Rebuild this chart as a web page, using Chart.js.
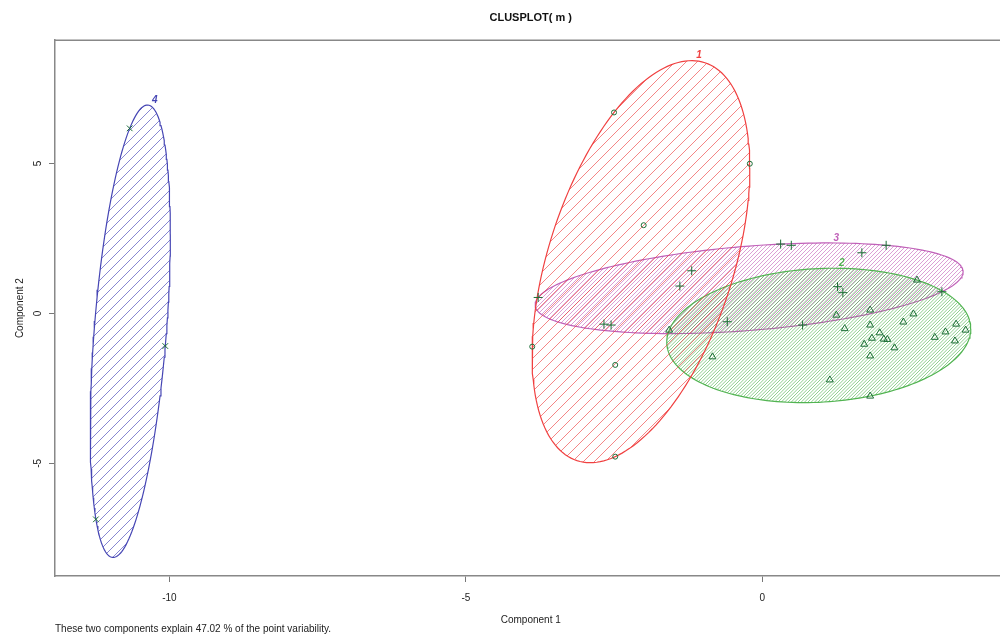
<!DOCTYPE html>
<html>
<head>
<meta charset="utf-8">
<script src="https://cdn.jsdelivr.net/npm/chart.js@4/dist/chart.umd.min.js"></script>
<style>
  html, body { margin: 0; padding: 0; background: #fff; overflow: hidden; }
  #wrap { width: 1012px; height: 634px; }
</style>
</head>
<body>
<div id="wrap"><canvas id="clusplot" width="1012" height="634"></canvas></div>
<script>
const clus1X = [-2.50, -0.21, -2.00, -3.88, -2.48, -2.48];
const clus1Y = [6.70, 4.99, 2.94, -1.11, -1.72, -4.78];

const clus2X = [-1.57, 2.61, 1.25, 1.82, 2.55, 2.38, 1.39, 1.82, 1.98, 1.85, 1.72, 2.05,
                2.11, 2.23, 1.82, 2.91, 3.09, 3.27, 3.43, 3.25, -0.84, 1.14, 1.82];
const clus2Y = [-0.56, 1.11, -0.06, 0.11, -0.02, -0.29, -0.51, -0.39, -0.65, -0.83, -1.03, -0.86,
                -0.87, -1.15, -1.42, -0.80, -0.62, -0.36, -0.56, -0.92, -1.45, -2.22, -2.76];

const clus3X = [-3.78, -1.19, -1.39, -2.67, -2.55, 0.31, 0.49, 1.68, 2.09, 1.27, 1.36, -0.59, 0.68, 3.03];
const clus3Y = [0.53, 1.42, 0.91, -0.36, -0.39, 2.31, 2.27, 2.02, 2.27, 0.89, 0.69, -0.28, -0.39, 0.72];

const clus4X = [-10.67, -10.07, -11.24];
const clus4Y = [6.17, -1.09, -6.87];

const clusterNames = ['1', '2', '3', '4'];
const xTicks = [-10, -5, 0];
const yTicks = [-5, 0, 5];
const xRange = [-11.93, 4.12];
const yRange = [-8.76, 9.11];
const variability = 47.02;

const FONT = "'Liberation Sans', Arial, sans-serif";
const pointColor = '#1c6e36';
const clusterColors = ['#f04040', '#52b452', '#c060b8', '#4646b4'];
const hatchColors = ['rgba(238,60,60,0.62)', 'rgba(70,175,70,0.6)', 'rgba(195,95,185,0.6)', 'rgba(70,70,185,0.65)'];
const hatchSpacing = [[11, 1], [10, 3], [4, 1], [10, 1]]; // tile size, lines per tile
const pointStyles = [['circle', 2.5], ['triangle', 4], ['cross', 4.5], ['crossRot', 4]];

// diagonal hatch pattern, like polygon(density=...) in R
function hatch(color, tile, lines) {
    const c = document.createElement('canvas');
    c.width = tile;
    c.height = tile;
    const g = c.getContext('2d');
    g.strokeStyle = color;
    g.lineWidth = 1;
    const step = tile / lines;
    g.beginPath();
    for (let k = -1; k <= 2 * lines + 1; k++) {
        const s = k * step;
        g.moveTo(s + 1, -1);
        g.lineTo(-1, s + 1);
    }
    g.stroke();
    return g.createPattern(c, 'repeat');
}

function inv3(m) {
    const [a, b, c] = m[0], [d, e, f] = m[1], [g, h, i] = m[2];
    const A = e * i - f * h, B = -(d * i - f * g), C = d * h - e * g;
    const det = a * A + b * B + c * C;
    return [
        [A / det, -(b * i - c * h) / det, (b * f - c * e) / det],
        [B / det, (a * i - c * g) / det, -(a * f - c * d) / det],
        [C / det, -(a * h - b * g) / det, (a * e - b * d) / det]
    ];
}

// minimum volume ellipse around the cluster (Khachiyan), as ellipsoidhull() does
function ellipseHull(xs, ys) {
    const n = xs.length;
    let u = new Array(n).fill(1 / n);
    for (let it = 0; it < 20000; it++) {
        const X = [[0, 0, 0], [0, 0, 0], [0, 0, 0]];
        for (let i = 0; i < n; i++) {
            const q = [xs[i], ys[i], 1];
            for (let a = 0; a < 3; a++)
                for (let b = 0; b < 3; b++) X[a][b] += u[i] * q[a] * q[b];
        }
        const Xi = inv3(X);
        let best = 0, mBest = -Infinity;
        for (let i = 0; i < n; i++) {
            const q = [xs[i], ys[i], 1];
            let m = 0;
            for (let a = 0; a < 3; a++)
                for (let b = 0; b < 3; b++) m += q[a] * Xi[a][b] * q[b];
            if (m > mBest) { mBest = m; best = i; }
        }
        const step = (mBest - 3) / (3 * (mBest - 1));
        if (step < 1e-10) break;
        u = u.map(v => v * (1 - step));
        u[best] += step;
    }
    let cx = 0, cy = 0, sxx = 0, sxy = 0, syy = 0;
    for (let i = 0; i < n; i++) {
        cx += u[i] * xs[i];
        cy += u[i] * ys[i];
        sxx += u[i] * xs[i] * xs[i];
        sxy += u[i] * xs[i] * ys[i];
        syy += u[i] * ys[i] * ys[i];
    }
    const s11 = 2 * (sxx - cx * cx), s12 = 2 * (sxy - cx * cy), s22 = 2 * (syy - cy * cy);
    const l11 = Math.sqrt(s11), l21 = s12 / l11, l22 = Math.sqrt(s22 - l21 * l21);
    const pts = [];
    for (let k = 0; k <= 180; k++) {
        const t = (2 * Math.PI * k) / 180;
        const c = Math.cos(t), s = Math.sin(t);
        pts.push({ x: cx + l11 * c, y: cy + l21 * c + l22 * s });
    }
    return pts;
}

const clusters = [[clus1X, clus1Y], [clus2X, clus2Y], [clus3X, clus3Y], [clus4X, clus4Y]];

const pointSets = clusters.map(([xs, ys], k) => ({
    label: 'cluster ' + clusterNames[k],
    data: xs.map((x, i) => ({ x: x, y: ys[i] })),
    pointStyle: pointStyles[k][0],
    pointRadius: pointStyles[k][1],
    borderColor: pointColor,
    backgroundColor: 'rgba(0,0,0,0)',
    pointBorderWidth: 1,
    showLine: false,
    order: 0
}));

const ellipseSets = clusters.map(([xs, ys], k) => ({
    label: 'ellipse ' + clusterNames[k],
    data: ellipseHull(xs, ys),
    showLine: true,
    pointRadius: 0,
    borderColor: clusterColors[k],
    borderWidth: 1.2,
    tension: 0,
    fill: 'shape',
    backgroundColor: hatch(hatchColors[k], hatchSpacing[k][0], hatchSpacing[k][1]),
    order: 1
}));

const extras = {
    id: 'extras',
    afterDatasetsDraw(chart) {
        const ctx = chart.ctx;
        const area = chart.chartArea;
        const xs = chart.scales.x, ys = chart.scales.y;
        ctx.save();
        // box top edge
        ctx.strokeStyle = '#888';
        ctx.lineWidth = 1.5;
        ctx.beginPath();
        ctx.moveTo(area.left, area.top);
        ctx.lineTo(area.right, area.top);
        ctx.stroke();
        // cluster labels above each ellipse
        ctx.font = 'italic bold 10px ' + FONT;
        ctx.textAlign = 'center';
        ctx.textBaseline = 'middle';
        ellipseSets.forEach((ds, k) => {
            let top = null;
            ds.data.forEach(p => {
                const px = xs.getPixelForValue(p.x), py = ys.getPixelForValue(p.y);
                if (!top || py < top.y) top = { x: px, y: py };
            });
            ctx.fillStyle = clusterColors[k];
            ctx.fillText(clusterNames[k], top.x + 7, top.y - 5);
        });
        // rotated y tick labels
        ctx.fillStyle = '#222';
        ctx.font = '10px ' + FONT;
        yTicks.forEach(v => {
            ctx.save();
            ctx.translate(area.left - 17, ys.getPixelForValue(v));
            ctx.rotate(-Math.PI / 2);
            ctx.fillText(String(v), 0, 0);
            ctx.restore();
        });
        // footer note
        ctx.textAlign = 'left';
        ctx.fillText('These two components explain ' + variability.toFixed(2) + ' % of the point variability.',
            area.left, 629);
        ctx.restore();
    }
};

new Chart(document.getElementById('clusplot'), {
    type: 'scatter',
    data: { datasets: pointSets.concat(ellipseSets) },
    options: {
        responsive: false,
        animation: false,
        devicePixelRatio: 1,
        layout: { padding: { left: 0, right: 2, top: 0, bottom: 8 } },
        plugins: {
            legend: { display: false },
            tooltip: { enabled: false },
            title: {
                display: true,
                text: 'CLUSPLOT( m )',
                fullSize: false,
                color: '#111',
                font: { family: FONT, size: 11, weight: 'bold' },
                padding: { top: 11, bottom: 16 }
            }
        },
        scales: {
            x: {
                type: 'linear',
                min: xRange[0],
                max: xRange[1],
                afterBuildTicks: s => { s.ticks = xTicks.map(v => ({ value: v })); },
                grid: { drawOnChartArea: false, drawTicks: true, tickLength: 6, tickColor: '#777' },
                border: { display: true, color: '#888', width: 1.5 },
                ticks: { padding: 10, color: '#222', maxRotation: 0, autoSkip: false, font: { family: FONT, size: 10 } },
                title: { display: true, text: 'Component 1', color: '#222', font: { family: FONT, size: 10 }, padding: { top: 0, bottom: 0 } }
            },
            y: {
                type: 'linear',
                min: yRange[0],
                max: yRange[1],
                afterBuildTicks: s => { s.ticks = yTicks.map(v => ({ value: v })); },
                grid: { drawOnChartArea: false, drawTicks: true, tickLength: 6, tickColor: '#777' },
                border: { display: true, color: '#888', width: 1.5 },
                ticks: { display: false },
                title: { display: true, text: 'Component 2', color: '#222', font: { family: FONT, size: 10 }, padding: { top: 14, bottom: 23 } }
            }
        }
    },
    plugins: [extras]
});
</script>
</body>
</html>
